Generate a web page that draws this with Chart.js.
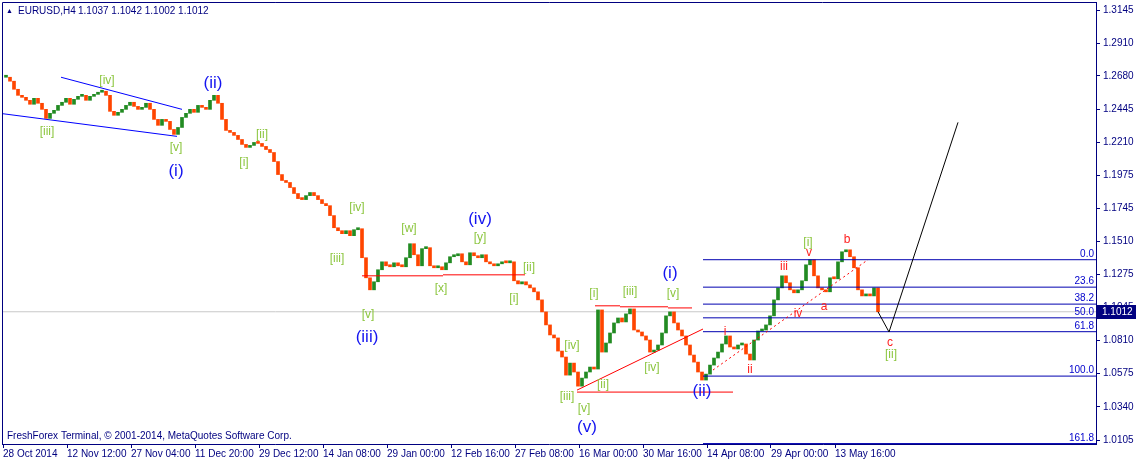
<!DOCTYPE html>
<html><head><meta charset="utf-8">
<script src="https://cdn.jsdelivr.net/npm/chart.js@4.4.1/dist/chart.umd.min.js"></script>
<style>html,body{margin:0;padding:0;background:#fff;overflow:hidden}#wrap{width:1136px;height:461px}</style>
</head><body><div id="wrap"><canvas id="c" width="1136" height="461"></canvas></div>
<script>
// ---------- text ----------
const symbolText = 'EURUSD,H4';
const headerOHLC = ['1.1037', '1.1042', '1.1002', '1.1012'];
const footerText = 'FreshForex Terminal, \u00A9 2001-2014, MetaQuotes Software Corp.';
const xTickLabels = ['28 Oct 2014','12 Nov 12:00','27 Nov 04:00','11 Dec 20:00','29 Dec 12:00','14 Jan 08:00','29 Jan 00:00','12 Feb 16:00','27 Feb 08:00','16 Mar 00:00','30 Mar 16:00','14 Apr 08:00','29 Apr 00:00','13 May 16:00'];
const yTicks = [1.0105,1.0340,1.0575,1.0810,1.1045,1.1275,1.1510,1.1745,1.1975,1.2210,1.2445,1.2680,1.2910,1.3145];

// ---------- price path (closes, sampled every 4 H4 bars) ----------
const closes = [
1.2670,1.2642,1.2585,1.2542,1.2528,1.2507,1.2479,1.2521,1.2486,1.2443,
1.2379,1.2415,1.2436,1.2471,1.2493,1.2521,1.2479,1.2514,1.2535,1.2542,
1.2507,1.2535,1.2549,1.2564,1.2571,1.2542,1.2429,1.2401,1.2422,1.2443,
1.2471,1.2493,1.2464,1.2443,1.2457,1.2486,1.2443,1.2372,1.2330,1.2372,
1.2358,1.2301,1.2266,1.2315,1.2386,1.2415,1.2443,1.2422,1.2471,1.2457,
1.2443,1.2507,1.2542,1.2486,1.2372,1.2294,1.2280,1.2259,1.2230,1.2195,
1.2174,1.2188,1.2209,1.2202,1.2181,1.2159,1.2138,
1.2074,1.1982,1.1940,1.1926,1.1890,1.1848,1.1812,1.1805,1.1833,1.1855,
1.1833,1.1805,1.1777,1.1762,1.1692,1.1606,1.1585,1.1564,1.1585,1.1550,
1.1592,1.1599,1.1394,1.1252,1.1167,
1.1224,1.1309,1.1365,1.1337,1.1330,1.1358,1.1337,1.1330,1.1394,1.1493,
1.1415,1.1337,1.1458,1.1465,1.1337,1.1323,1.1330,1.1309,1.1358,1.1401,
1.1408,1.1422,1.1365,1.1344,1.1429,1.1408,1.1394,1.1415,1.1365,1.1351,
1.1337,1.1351,1.1365,1.1358,1.1365,1.1231,1.1209,1.1224,1.1202,1.1181,
1.1153,1.1096,
1.1011,1.0919,1.0848,1.0827,1.0734,1.0692,1.0564,1.0649,1.0586,1.0486,
1.0543,1.0586,1.0621,1.0607,1.1025,1.0727,1.0791,1.0862,1.0933,1.0968,
1.0940,1.0997,1.1032,1.0883,1.0869,1.0841,1.0812,1.0727,1.0741,1.0777,
1.0862,1.0983,1.1011,1.0933,1.0883,1.0841,1.0777,1.0706,1.0656,1.0586,
1.0529,1.0571,1.0635,1.0685,1.0727,1.0784,1.0841,1.0763,1.0749,1.0777,
1.0784,1.0713,
1.0671,1.0812,1.0876,1.0883,1.0919,1.0983,1.1096,1.1181,1.1266,1.1217,
1.1167,1.1146,1.1167,1.1231,1.1344,1.1380,1.1266,1.1181,1.1167,1.1153,
1.1252,1.1245,1.1365,1.1436,1.1450,1.1401,1.1323,1.1167,1.1124,1.1131,
1.1124,1.1181,1.1012
];
const lastPrice = 1.1012;

// ---------- drawn objects: [barIndex1, price1, barIndex2, price2] ----------
const blueLines = [[0,1.2412,174,1.2252],[58,1.2670,179,1.2443]];
const redLines = [[359,1.1266,440,1.1266],[440,1.1273,522,1.1273],[592,1.1054,617,1.1054],[617,1.1047,665,1.1047],[665,1.1039,689,1.1039],[574,1.0444,730,1.0444],[574,1.0458,700,1.0890]];
const redDottedLines = [[710,1.0600,865,1.1380]];
const fibNames = ['0.0','23.6','38.2','50.0','61.8','100.0','161.8'];
const fibPrices = [1.1380,1.1186,1.1066,1.0969,1.0871,1.0557,1.0080];
const fibFrom = 700, fibTo = 1093;
const forecastX = [875, 886, 955];
const forecastY = [1.1012, 1.0869, 1.2351];

// ---------- wave labels ----------
const greenText = ['[iii]','[iv]','[v]','[ii]','[i]','[iv]','[iii]','[v]','[w]','[x]','[y]','[ii]','[i]','[i]','[iii]','[v]','[iv]','[ii]','[iv]','[iii]','[v]','[i]','[ii]'];
const greenX = [44,104,173,259,241,354,334,365,406,438,477,526,511,591,627,670,569,600,649,564,581,805,888];
const greenY = [1.2287,1.2649,1.2174,1.2266,1.2067,1.1748,1.1387,1.0990,1.1599,1.1174,1.1536,1.1323,1.1103,1.1139,1.1153,1.1139,1.0770,1.0493,1.0614,1.0415,1.0330,1.1500,1.0706];
const blueText = ['(ii)','(i)','(iii)','(iv)','(i)','(v)','(ii)'];
const blueX = [210,173,364,477,667,584,699];
const blueY = [1.2627,1.2004,1.0834,1.1663,1.1287,1.0196,1.0451];
const redText = ['i','ii','iii','iv','v','a','b','c'];
const redX = [722,747,781,795,806,821,844,887];
const redY = [1.0869,1.0600,1.1330,1.0997,1.1429,1.1046,1.1521,1.0791];

// ---------- layout constants ----------
const barStart = 3, barStep = 4, barsPerLabel = 64;
const NAVY = '#000080';
const FONT = '"Liberation Sans", Arial, sans-serif';
const UP = '#228B22', DOWN = '#FF4500';

const candleData = closes.map((c, i) => ({x: barStart + i * barStep, y: [i ? closes[i - 1] : c, c]}));
const candleColors = closes.map((c, i) => (i && c < closes[i - 1]) ? DOWN : UP);

function seg(l, color, extra) {
  return Object.assign({type: 'line', data: [{x: l[0], y: l[1]}, {x: l[2], y: l[3]}], borderColor: color, borderWidth: 1,
    pointRadius: 0, fill: false, tension: 0, order: 1}, extra || {});
}
const datasets = [];
datasets.push({type: 'line', data: [{x: -1, y: lastPrice}, {x: 1093, y: lastPrice}], borderColor: '#C8C8C8', borderWidth: 1, pointRadius: 0, order: 10});
datasets.push({type: 'bar', data: candleData, backgroundColor: candleColors, barThickness: 3, minBarLength: 2, order: 5, grouped: false});
blueLines.forEach(l => datasets.push(seg(l, '#0000FF')));
redLines.forEach(l => datasets.push(seg(l, '#FF0000')));
redDottedLines.forEach(l => datasets.push(seg(l, '#FF0000', {borderDash: [2, 3]})));
fibPrices.forEach(p => datasets.push(seg([fibFrom, p, fibTo, p], '#0000B0')));
datasets.push({type: 'line', data: forecastX.map((x, i) => ({x, y: forecastY[i]})), borderColor: '#000000', borderWidth: 1, pointRadius: 0, tension: 0, order: 0});

const overlay = {
  id: 'overlay',
  beforeDraw(chart) {
    const c = chart.ctx; c.save(); c.fillStyle = '#fff'; c.fillRect(0, 0, chart.width, chart.height); c.restore();
  },
  afterDraw(chart) {
    const {ctx, chartArea: a, scales: {x, y}} = chart;
    ctx.save();
    ctx.beginPath(); ctx.rect(a.left, a.top, a.right - a.left, a.bottom - a.top); ctx.clip();
    // fib labels
    ctx.font = '10px ' + FONT; ctx.fillStyle = '#0000CC'; ctx.textAlign = 'right'; ctx.textBaseline = 'bottom';
    fibNames.forEach((t, i) => ctx.fillText(t, a.right - 2, Math.round(y.getPixelForValue(fibPrices[i])) - 1));
    // wave labels
    const put = (texts, xs, ys, color, size) => {
      ctx.font = size + 'px ' + FONT; ctx.fillStyle = color; ctx.textAlign = 'center'; ctx.textBaseline = 'middle';
      texts.forEach((t, i) => ctx.fillText(t, x.getPixelForValue(xs[i]), y.getPixelForValue(ys[i])));
    };
    put(greenText, greenX, greenY, '#8CC63F', 12);
    put(blueText, blueX, blueY, '#1414F0', 17);
    put(redText, redX, redY, '#FF2020', 12);
    // header
    ctx.fillStyle = NAVY; ctx.textAlign = 'left'; ctx.textBaseline = 'middle';
    ctx.font = '7px ' + FONT; ctx.fillText('\u25B2', 6, 11);
    ctx.font = '10px ' + FONT;
    ctx.fillText(symbolText, 18, 11);
    ctx.fillText(headerOHLC.join(' '), 78, 11);
    // footer
    ctx.fillText(footerText, 7, 436);
    ctx.restore();
    // frame top/left
    ctx.save(); ctx.strokeStyle = NAVY; ctx.lineWidth = 1;
    ctx.beginPath(); ctx.moveTo(a.left + 0.5, a.bottom); ctx.lineTo(a.left + 0.5, a.top + 0.5); ctx.lineTo(a.right, a.top + 0.5); ctx.stroke();
    // current price box
    const py = Math.round(y.getPixelForValue(lastPrice));
    ctx.fillStyle = NAVY; ctx.fillRect(a.right + 1, py - 7, chart.width - a.right - 1, 14);
    ctx.fillStyle = '#fff'; ctx.font = '10px ' + FONT; ctx.textAlign = 'left'; ctx.textBaseline = 'middle';
    ctx.fillText(lastPrice.toFixed(4), a.right + 6, py);
    ctx.restore();
  }
};

new Chart(document.getElementById('c'), {
  type: 'bar',
  data: {datasets},
  options: {
    responsive: false, animation: false, devicePixelRatio: 1,
    layout: {padding: {left: 2, top: 2, right: 0, bottom: 0}},
    plugins: {legend: {display: false}, tooltip: {enabled: false}},
    scales: {
      x: {type: 'linear', min: -1, max: 1093, offset: false,
        afterBuildTicks: s => { s.ticks = xTickLabels.map((_, i) => ({value: i * barsPerLabel})); },
        afterFit: s => { s.height = 17; s.paddingLeft = 0; s.paddingRight = 0; s.paddingTop = 0; s.paddingBottom = 0; },
        ticks: {autoSkip: false, maxRotation: 0, minRotation: 0, align: 'start', padding: 0, color: NAVY,
          font: {family: FONT, size: 10}, callback: (v, i) => xTickLabels[i]},
        grid: {drawOnChartArea: false, drawTicks: true, tickLength: 4, offset: false, color: NAVY, tickColor: NAVY},
        border: {color: NAVY, width: 1}},
      y: {position: 'right', min: 1.0077, max: 1.3202,
        afterBuildTicks: s => { s.ticks = yTicks.map(v => ({value: v})); },
        afterFit: s => { s.width = 40; s.paddingTop = 0; s.paddingBottom = 0; s.paddingLeft = 0; s.paddingRight = 0; },
        ticks: {autoSkip: false, padding: 3, color: NAVY, font: {family: FONT, size: 10}, callback: v => Number(v).toFixed(4)},
        grid: {drawOnChartArea: false, drawTicks: true, tickLength: 4, color: NAVY, tickColor: NAVY},
        border: {color: NAVY, width: 1}}
    }
  },
  plugins: [overlay]
});
</script></body></html>
